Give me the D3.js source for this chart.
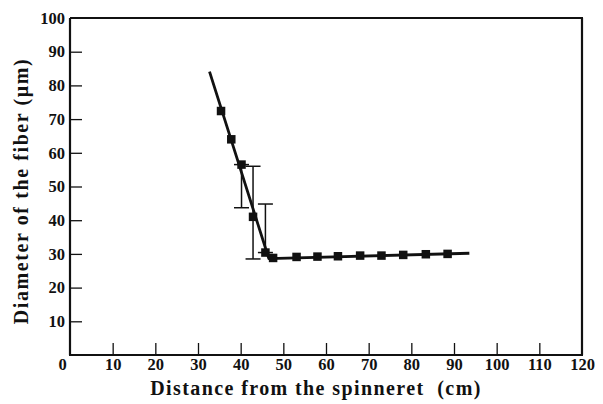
<!DOCTYPE html>
<html>
<head>
<meta charset="utf-8">
<script src="https://cdn.jsdelivr.net/npm/d3@7"></script>
<style>
  html, body { margin: 0; padding: 0; background: #fff; }
  svg { display: block; }
  .tick text { font-family: "Liberation Serif", "DejaVu Serif", serif; font-weight: bold; font-size: 16.5px; fill: #111; }
  .title { font-family: "Liberation Serif", "DejaVu Serif", serif; font-weight: bold; font-size: 20px; fill: #111; }
</style>
</head>
<body>
<script>
// ---- data ----
const distance = [35.4, 37.8, 40.2, 42.9, 45.8, 47.6, 53.1, 58.0, 62.8, 68.0, 73.0, 78.1, 83.4, 88.5];
const diameter = [72.4, 64.0, 56.5, 41.0, 30.4, 28.8, 29.1, 29.2, 29.3, 29.5, 29.5, 29.7, 29.9, 30.0];

const fitX = [32.7, 46.6, 93.6];
const fitY = [84.1, 28.6, 30.2];

const errX    = [40.2, 42.9, 45.8];
const errLow  = [43.7, 28.5, 30.4];
const errHigh = [56.5, 56.0, 44.8];

const xTicks = [0, 10, 20, 30, 40, 50, 60, 70, 80, 90, 100, 110, 120];
const yTicks = [10, 20, 30, 40, 50, 60, 70, 80, 90, 100];

const xTitle = "Distance from the spinneret\u00a0\u00a0(cm)";
const yTitle = "Diameter of the fiber (\u03bcm)";

// ---- drawing ----
const W = 603, H = 404;
const svg = d3.select("body").append("svg").attr("width", W).attr("height", H);

const x = d3.scaleLinear().domain([0, 120]).range([70, 582]);
const y = d3.scaleLinear().domain([0, 100]).range([355, 18]);

// box: left, bottom, right, top
const box = svg.append("g").attr("stroke", "#111").attr("fill", "none");
box.append("line").attr("x1", x(0)).attr("x2", x(0)).attr("y1", y(100)).attr("y2", y(0)).attr("stroke-width", 2.2);
box.append("line").attr("x1", x(0) - 1).attr("x2", x(120) + 1).attr("y1", y(0)).attr("y2", y(0)).attr("stroke-width", 2.2);
box.append("line").attr("x1", x(120)).attr("x2", x(120)).attr("y1", y(100)).attr("y2", y(0)).attr("stroke-width", 2.2);
box.append("line").attr("x1", x(0)).attr("x2", x(120) + 1).attr("y1", y(100)).attr("y2", y(100)).attr("stroke-width", 1.8);

// x axis
const gx = svg.append("g").attr("transform", `translate(0,${y(0)})`)
  .call(d3.axisBottom(x).tickValues(xTicks).tickSizeInner(-12).tickSizeOuter(0).tickPadding(3).tickFormat(d3.format("d")));
gx.select(".domain").remove();
gx.selectAll(".tick line").attr("stroke", "#111").attr("stroke-width", 1.3);
gx.selectAll(".tick").filter(d => d === 0 || d === 120).select("line").remove();
gx.selectAll(".tick").filter(d => d === 0).select("text").attr("dx", -8);

// y axis
const gy = svg.append("g").attr("transform", `translate(${x(0)},0)`)
  .call(d3.axisLeft(y).tickValues(yTicks).tickSizeInner(-12).tickSizeOuter(0).tickPadding(5).tickFormat(d3.format("d")));
gy.select(".domain").remove();
gy.selectAll(".tick line").attr("stroke", "#111").attr("stroke-width", 1.3);
gy.selectAll(".tick").filter(d => d === 100).select("line").remove();

// error bars
const eb = svg.append("g").attr("stroke", "#111").attr("stroke-width", 1.5);
errX.forEach((ex, i) => {
  eb.append("line").attr("x1", x(ex)).attr("x2", x(ex)).attr("y1", y(errLow[i])).attr("y2", y(errHigh[i]));
  [errLow[i], errHigh[i]].forEach(v => {
    eb.append("line").attr("x1", x(ex) - 7.5).attr("x2", x(ex) + 7.5).attr("y1", y(v)).attr("y2", y(v));
  });
});

// fitted line
const line = d3.line().x(d => x(d[0])).y(d => y(d[1]));
svg.append("path")
  .datum(fitX.map((v, i) => [v, fitY[i]]))
  .attr("d", line)
  .attr("fill", "none").attr("stroke", "#111").attr("stroke-width", 2.8)
  .attr("stroke-linejoin", "round");

// markers
const s = 8.5;
svg.append("g").selectAll("rect")
  .data(distance.map((v, i) => [v, diameter[i]]))
  .join("rect")
  .attr("x", d => x(d[0]) - s / 2).attr("y", d => y(d[1]) - s / 2)
  .attr("width", s).attr("height", s).attr("fill", "#111");

// titles
svg.append("text").attr("class", "title")
  .attr("x", 316).attr("y", 395)
  .attr("letter-spacing", 1.4)
  .attr("text-anchor", "middle").text(xTitle);

svg.append("text").attr("class", "title")
  .attr("transform", `translate(28,191) rotate(-90)`)
  .attr("letter-spacing", 1.6)
  .attr("text-anchor", "middle").text(yTitle);
</script>
</body>
</html>
